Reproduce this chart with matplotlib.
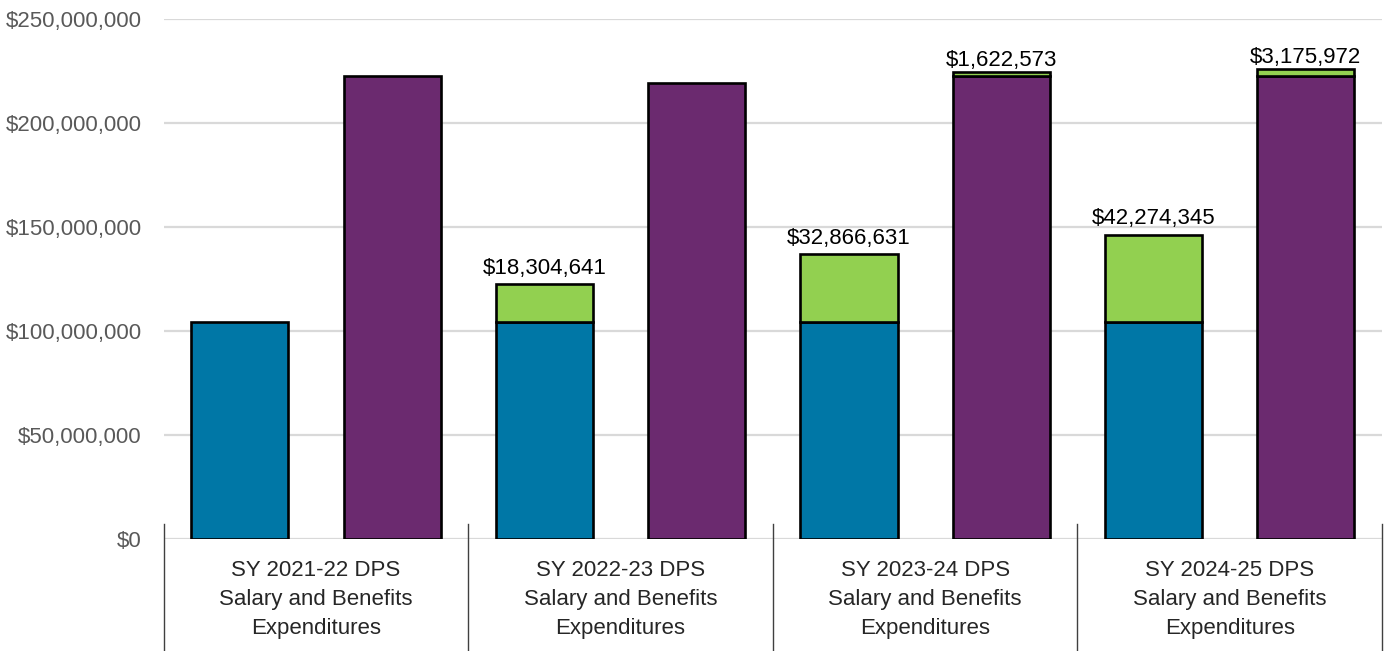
import numpy as np
import matplotlib
matplotlib.use('Agg')
import matplotlib.pyplot as plt
from matplotlib.ticker import FuncFormatter

# chart values
categories = ['SY 2021-22 DPS\nSalary and Benefits\nExpenditures',
              'SY 2022-23 DPS\nSalary and Benefits\nExpenditures',
              'SY 2023-24 DPS\nSalary and Benefits\nExpenditures',
              'SY 2024-25 DPS\nSalary and Benefits\nExpenditures']
blue_base = [104100000, 104100000, 104100000, 104100000]
blue_add = [0, 18304641, 32866631, 42274345]
purple_base = [222400000, 219400000, 222700000, 222700000]
purple_add = [0, 0, 1622573, 3175972]
y_ticks = [0, 50000000, 100000000, 150000000, 200000000, 250000000]

plt.rcParams['font.family'] = ['Liberation Sans', 'DejaVu Sans']

fig = plt.figure(figsize=(13.87, 6.51), dpi=100)
ax = fig.add_axes([163.7 / 1387, 1 - 539 / 651, (1382 - 163.7) / 1387, 520 / 651])

blue = '#0077A6'
purple = '#6B2A6F'
green = '#92D050'
width = 0.319
n = len(categories)
x = np.arange(n) + 0.5

ax.bar(x - 0.25, blue_base, width, color=blue, edgecolor='black', linewidth=1.9, zorder=3)
ax.bar(x + 0.25, purple_base, width, color=purple, edgecolor='black', linewidth=1.9, zorder=3)

for i in range(n):
    if blue_add[i] > 0:
        ax.bar(x[i] - 0.25, blue_add[i], width, bottom=blue_base[i], color=green,
               edgecolor='black', linewidth=1.9, zorder=3)
        ax.annotate('${:,}'.format(blue_add[i]), (x[i] - 0.25, blue_base[i] + blue_add[i]),
                    xytext=(0, 4), textcoords='offset points', ha='center', va='bottom',
                    fontsize=16, color='black')
    if purple_add[i] > 0:
        ax.bar(x[i] + 0.25, purple_add[i], width, bottom=purple_base[i], color=green,
               edgecolor='black', linewidth=1.9, zorder=3)
        ax.annotate('${:,}'.format(purple_add[i]), (x[i] + 0.25, purple_base[i] + purple_add[i]),
                    xytext=(0, 1), textcoords='offset points', ha='center', va='bottom',
                    fontsize=16, color='black')

ax.set_xlim(0, n)
ax.set_ylim(0, 250000000)
ax.set_yticks(y_ticks)
ax.yaxis.set_major_formatter(FuncFormatter(lambda v, p: '${:,.0f}'.format(v)))
ax.tick_params(axis='y', length=0, pad=16, labelsize=16, labelcolor='#595959')
ax.set_xticks([])
ax.grid(axis='y', color='#D9D9D9', linewidth=1.6, zorder=0)
for s in ax.spines.values():
    s.set_visible(False)

# category labels and separators below the axis
trans = ax.get_xaxis_transform()
for i in range(n):
    ax.text(x[i], -0.117, categories[i], transform=trans, ha='center', va='center',
            fontsize=16, color='#262626', linespacing=1.5)
for i in range(n + 1):
    ax.plot([i, i], [0.029, -0.22], transform=trans, color='#404040', linewidth=1.0,
            clip_on=False)

plt.savefig('out.png', dpi=100)
